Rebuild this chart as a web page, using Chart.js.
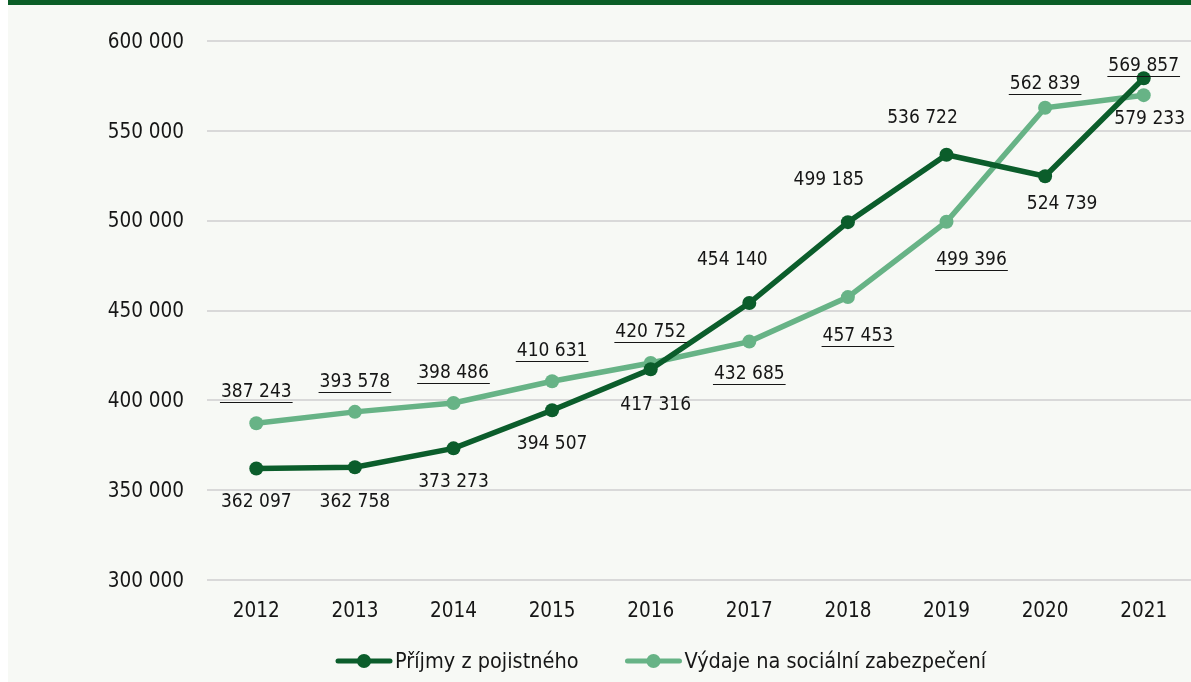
<!DOCTYPE html>
<html>
<head>
<meta charset="utf-8">
<script src="https://cdn.jsdelivr.net/npm/chart.js@4/dist/chart.umd.min.js"></script>
<style>
  html, body { margin: 0; padding: 0; background: #fff; overflow: hidden; }
  #wrap { width: 1200px; height: 682px; }
</style>
</head>
<body>
<div id="wrap"><canvas id="chart" width="1200" height="682"></canvas></div>
<script>
// Data
const years = ['2012', '2013', '2014', '2015', '2016', '2017', '2018', '2019', '2020', '2021'];
const prijmy = [362097, 362758, 373273, 394507, 417316, 454140, 499185, 536722, 524739, 579233];
const vydaje = [387243, 393578, 398486, 410631, 420752, 432685, 457453, 499396, 562839, 569857];
const seriesNames = ['Příjmy z pojistného', 'Výdaje na sociální zabezpečení'];
const yTicks = [300000, 350000, 400000, 450000, 500000, 550000, 600000];

const DARK = '#0b5d2b';
const LIGHT = '#67b386';
const FONT = '"DejaVu Sans Condensed", "DejaVu Sans", sans-serif';

function fmt(v) {
    return String(v).replace(/\B(?=(\d{3})+(?!\d))/g, ' ');
}

// label placement relative to each point [dx, dy]
const labelShift = [
    [[0, 34], [0, 35], [0, 34], [0, 34], [5, 36], [-17, -43], [-19, -42], [-24, -37], [17, 28], [6, 41]],
    [[0, -31], [0, -30], [0, -30], [0, -30], [0, -31], [0, 32], [10, 39], [25, 38], [0, -24], [0, -29]]
];

// background and top bar
const backdrop = {
    id: 'backdrop',
    beforeDraw(chart) {
        const ctx = chart.ctx;
        ctx.save();
        ctx.fillStyle = '#f7f9f5';
        ctx.fillRect(8, 0, chart.width, chart.height);
        ctx.fillStyle = '#0b5e27';
        ctx.fillRect(8, 0, chart.width, 5);
        ctx.restore();
    }
};

// value labels, light series underlined
const valueLabels = {
    id: 'valueLabels',
    afterDatasetsDraw(chart) {
        const ctx = chart.ctx;
        ctx.save();
        ctx.font = '19px ' + FONT;
        ctx.fillStyle = '#161616';
        ctx.strokeStyle = '#161616';
        ctx.textAlign = 'center';
        ctx.textBaseline = 'middle';
        chart.data.datasets.forEach((ds, di) => {
            const meta = chart.getDatasetMeta(di);
            meta.data.forEach((pt, i) => {
                const [dx, dy] = labelShift[di][i];
                const txt = fmt(ds.data[i]);
                const x = pt.x + dx, y = pt.y + dy;
                ctx.fillText(txt, x, y);
                if (di === 1) {
                    const w = ctx.measureText(txt).width;
                    ctx.lineWidth = 1;
                    ctx.beginPath();
                    ctx.moveTo(x - w / 2 - 1, Math.round(y + 10) + 0.5);
                    ctx.lineTo(x + w / 2 + 1, Math.round(y + 10) + 0.5);
                    ctx.stroke();
                }
            });
        });
        ctx.restore();
    }
};

// legend with line + dot markers
const lineLegend = {
    id: 'lineLegend',
    afterDraw(chart) {
        const ctx = chart.ctx;
        let x = 336;
        const y = 661;
        ctx.save();
        ctx.font = '21.5px ' + FONT;
        ctx.textBaseline = 'middle';
        ctx.textAlign = 'left';
        chart.data.datasets.forEach(ds => {
            ctx.strokeStyle = ds.borderColor;
            ctx.fillStyle = ds.borderColor;
            ctx.lineWidth = 5;
            ctx.lineCap = 'round';
            ctx.beginPath();
            ctx.moveTo(x + 2, y);
            ctx.lineTo(x + 54, y);
            ctx.stroke();
            ctx.beginPath();
            ctx.arc(x + 28, y, 7, 0, Math.PI * 2);
            ctx.fill();
            ctx.fillStyle = '#161616';
            ctx.fillText(ds.label, x + 59, y + 1);
            x += 59 + ctx.measureText(ds.label).width + 47;
        });
        ctx.restore();
    }
};

new Chart(document.getElementById('chart').getContext('2d'), {
    type: 'line',
    data: {
        labels: years,
        datasets: [
            {
                label: seriesNames[0],
                data: prijmy,
                borderColor: DARK,
                backgroundColor: DARK,
                borderWidth: 5.5,
                pointRadius: 7,
                pointBackgroundColor: DARK,
                pointBorderWidth: 0,
                tension: 0
            },
            {
                label: seriesNames[1],
                data: vydaje,
                borderColor: LIGHT,
                backgroundColor: LIGHT,
                borderWidth: 5.5,
                pointRadius: 7,
                pointBackgroundColor: LIGHT,
                pointBorderWidth: 0,
                tension: 0
            }
        ]
    },
    options: {
        responsive: false,
        animation: false,
        devicePixelRatio: 1,
        layout: {
            padding: { top: 41, right: 3, bottom: 0, left: 0 }
        },
        plugins: {
            legend: { display: false },
            tooltip: { enabled: false }
        },
        scales: {
            x: {
                offset: true,
                grid: { display: false, drawTicks: false },
                border: { display: false },
                ticks: {
                    color: '#161616',
                    font: { family: FONT, size: 20.5 },
                    padding: 19,
                    maxRotation: 0
                },
                afterFit(scale) { scale.height = 102; }
            },
            y: {
                min: 300000,
                max: 600000,
                afterBuildTicks(scale) { scale.ticks = yTicks.map(v => ({ value: v })); },
                grid: { color: '#d9d9d9', lineWidth: 2, drawTicks: false },
                border: { display: false },
                ticks: {
                    color: '#161616',
                    font: { family: FONT, size: 20.5 },
                    padding: 23,
                    labelOffset: 1.5,
                    callback: v => fmt(v)
                },
                afterFit(scale) { scale.width = 207; }
            }
        }
    },
    plugins: [backdrop, valueLabels, lineLegend]
});
</script>
</body>
</html>
